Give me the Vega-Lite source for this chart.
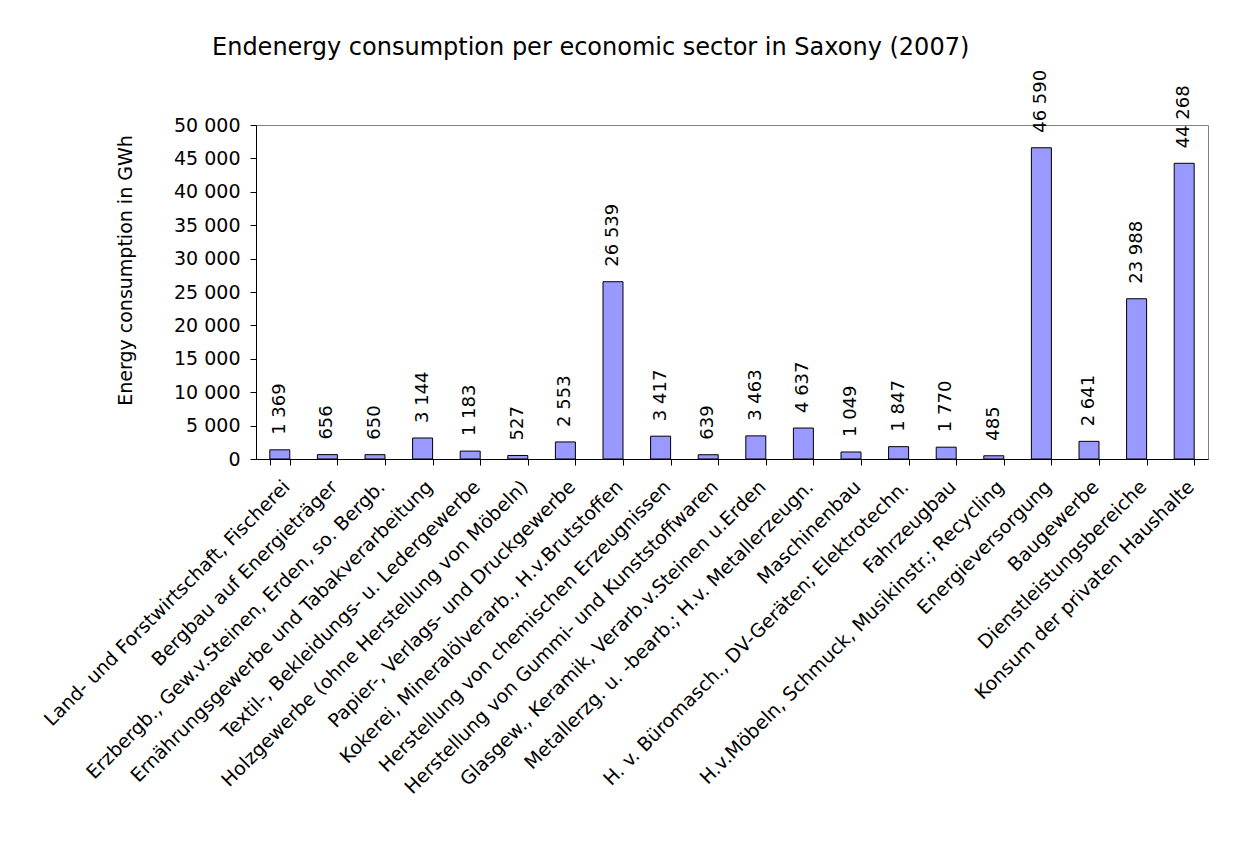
{
  "$schema": "https://vega.github.io/schema/vega-lite/v6.json",
  "width": 952,
  "height": 334,
  "autosize": {"type": "none"},
  "padding": {"left": 256, "top": 125, "right": 27, "bottom": 391},
  "background": "white",
  "config": {
    "locale": {"number": {"decimal": ",", "thousands": " ", "grouping": [3], "currency": ["", " €"]}},
    "view": {"stroke": "#808080", "strokeWidth": 1},
    "font": "DejaVu Sans"
  },
  "title": {
    "text": "Endenergy consumption per economic sector in Saxony (2007)",
    "anchor": "start",
    "frame": "group",
    "dx": -44,
    "fontSize": 24,
    "font": "DejaVu Sans",
    "fontWeight": "normal",
    "color": "black",
    "offset": 10
  },
  "data": {
    "values": [
      {"sector": "Land- und Forstwirtschaft, Fischerei", "value": 1369},
      {"sector": "Bergbau auf Energieträger", "value": 656},
      {"sector": "Erzbergb., Gew.v.Steinen, Erden, so. Bergb.", "value": 650},
      {"sector": "Ernährungsgewerbe und Tabakverarbeitung", "value": 3144},
      {"sector": "Textil-, Bekleidungs- u. Ledergewerbe", "value": 1183},
      {"sector": "Holzgewerbe (ohne Herstellung von Möbeln)", "value": 527},
      {"sector": "Papier-, Verlags- und Druckgewerbe", "value": 2553},
      {"sector": "Kokerei, Mineralölverarb., H.v.Brutstoffen", "value": 26539},
      {"sector": "Herstellung von chemischen Erzeugnissen", "value": 3417},
      {"sector": "Herstellung von Gummi- und Kunststoffwaren", "value": 639},
      {"sector": "Glasgew., Keramik, Verarb.v.Steinen u.Erden", "value": 3463},
      {"sector": "Metallerzg. u. -bearb.; H.v. Metallerzeugn.", "value": 4637},
      {"sector": "Maschinenbau", "value": 1049},
      {"sector": "H. v. Büromasch., DV-Geräten; Elektrotechn.", "value": 1847},
      {"sector": "Fahrzeugbau", "value": 1770},
      {"sector": "H.v.Möbeln, Schmuck, Musikinstr.; Recycling", "value": 485},
      {"sector": "Energieversorgung", "value": 46590},
      {"sector": "Baugewerbe", "value": 2641},
      {"sector": "Dienstleistungsbereiche", "value": 23988},
      {"sector": "Konsum der privaten Haushalte", "value": 44268}
    ]
  },
  "encoding": {
    "x": {
      "field": "sector",
      "type": "nominal",
      "sort": null,
      "scale": {"paddingInner": 0.58, "paddingOuter": 0.29},
      "axis": {
        "title": null,
        "labelAngle": -45,
        "labelFontSize": 19,
        "labelFont": "DejaVu Sans",
        "labelColor": "black",
        "labelLimit": 0,
        "labelOverlap": false,
        "labelPadding": 12,
        "tickBand": "extent",
        "tickColor": "black",
        "tickSize": 6,
        "domainColor": "black",
        "grid": false
      }
    },
    "y": {
      "field": "value",
      "type": "quantitative",
      "scale": {"domain": [0, 50000], "nice": false},
      "axis": {
        "values": [0, 5000, 10000, 15000, 20000, 25000, 30000, 35000, 40000, 45000, 50000],
        "format": ",d",
        "labelFontSize": 19,
        "labelFont": "DejaVu Sans",
        "labelColor": "black",
        "labelPadding": 10,
        "tickColor": "black",
        "tickSize": 6,
        "domainColor": "black",
        "grid": false,
        "title": "Energy consumption in GWh",
        "titleFontSize": 19,
        "titleFont": "DejaVu Sans",
        "titleFontWeight": "normal",
        "titleColor": "black",
        "titlePadding": 38,
        "titleY": 145
      }
    }
  },
  "layer": [
    {"mark": {"type": "bar", "fill": "#9999FF", "stroke": "black", "strokeWidth": 1}},
    {
      "mark": {"type": "text", "angle": -90, "align": "left", "baseline": "middle", "dx": 15, "fontSize": 18, "font": "DejaVu Sans", "color": "black"},
      "encoding": {"text": {"field": "value", "type": "quantitative", "format": ",d"}}
    }
  ]
}
